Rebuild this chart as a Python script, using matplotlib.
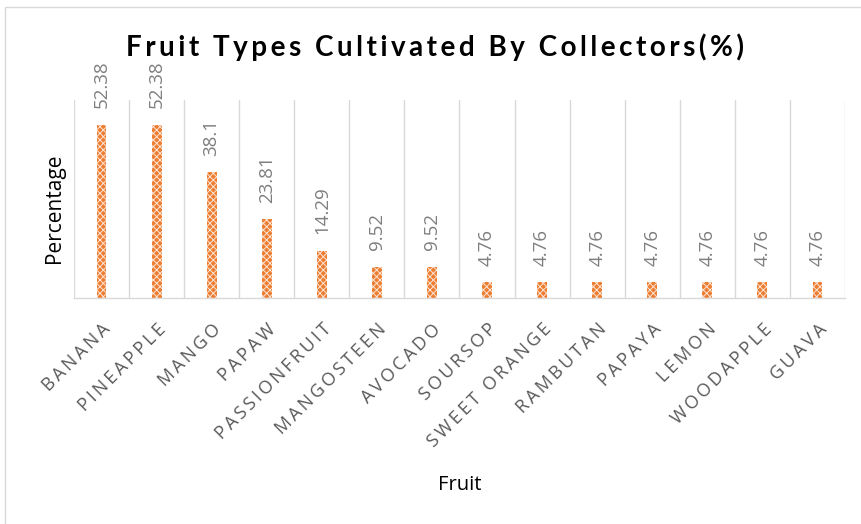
import matplotlib
matplotlib.use("Agg")
import matplotlib.pyplot as plt
from matplotlib.patches import Rectangle
import numpy as np

fruits = ["BANANA", "PINEAPPLE", "MANGO", "PAPAW", "PASSIONFRUIT", "MANGOSTEEN",
          "AVOCADO", "SOURSOP", "SWEET ORANGE", "RAMBUTAN", "PAPAYA", "LEMON",
          "WOODAPPLE", "GUAVA"]
values = [52.38, 52.38, 38.1, 23.81, 14.29, 9.52, 9.52, 4.76, 4.76, 4.76, 4.76, 4.76, 4.76, 4.76]
value_labels = ["52.38", "52.38", "38.1", "23.81", "14.29", "9.52", "9.52",
                "4.76", "4.76", "4.76", "4.76", "4.76", "4.76", "4.76"]
title = "Fruit Types Cultivated By Collectors(%)"

def spaced(s, sp="\u2009"):
    return sp.join(list(s))

plt.rcParams['font.family'] = ['Open Sans', 'DejaVu Sans']
plt.rcParams['hatch.linewidth'] = 0.7

fig = plt.figure(figsize=(8.62, 5.24), dpi=100)
fig.patches.append(Rectangle((5/862, -0.02), 1.0, 0.987 + 0.02, transform=fig.transFigure,
                             fill=False, edgecolor='#D9D9D9', linewidth=1.0))
ax = fig.add_axes([74/862, (524-298)/524, (845-74)/862, (298-100)/524])

x = np.arange(len(fruits))
ax.bar(x, values, width=0.18, color='#ED7D31', edgecolor='#FCE4D6', hatch='xxxxx', linewidth=0)

for xi, v, lab in zip(x, values, value_labels):
    ax.annotate(lab, (xi, v), xytext=(0, 12), textcoords='offset points',
                rotation=90, ha='center', va='bottom', color='#7F7F7F', fontsize=13.5)

ax.set_xlim(-0.5, len(fruits) - 0.5)
ax.set_ylim(0, 60)
for b in np.arange(-0.5, len(fruits), 1.0):
    ax.axvline(b, color='#D9D9D9', linewidth=1.0, zorder=0)

for s in ['top', 'right', 'left']:
    ax.spines[s].set_visible(False)
ax.spines['bottom'].set_color('#D9D9D9')
ax.spines['bottom'].set_linewidth(1.0)
ax.set_yticks([])
ax.set_xticks(x)
ax.set_xticklabels([spaced(f, "\u2009") for f in fruits], rotation=45, ha='right',
                   rotation_mode='anchor', fontsize=13, color='#595959')
ax.tick_params(axis='x', length=0, pad=16)

ax.set_ylabel("Percentage", fontsize=15, color='black')
ax.yaxis.set_label_coords(-0.012, 0.455)
fig.text(460/862, 1 - 485/524, "Fruit", ha='center', va='center', fontsize=14.5, color='black')
fig.text(435/862, 1 - 47/524, spaced(title, "\u2009"), ha='center', va='center', fontsize=20,
         fontweight='bold', color='black', family=['Lato', 'DejaVu Sans'])

fig.savefig("out.png", dpi=100)
